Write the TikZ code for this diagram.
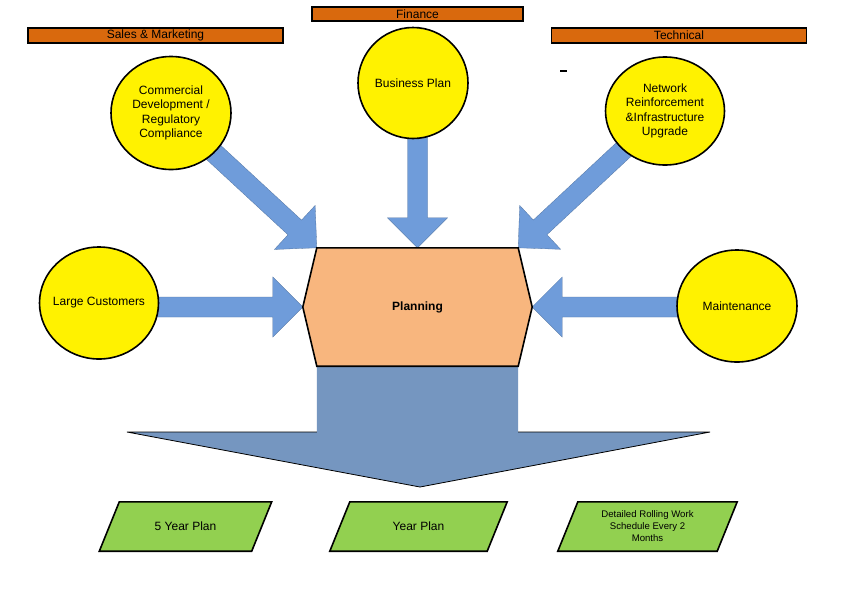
\documentclass[tikz,border=0pt]{standalone}
\usepackage{fontspec}
\setmainfont{Liberation Sans}
\usetikzlibrary{shapes.geometric,calc,backgrounds}
\definecolor{barorange}{RGB}{217,105,13}
\definecolor{planorange}{RGB}{248,182,126}
\definecolor{arrowblue}{RGB}{111,156,218}
\definecolor{bigblue}{RGB}{117,150,192}
\definecolor{plangreen}{RGB}{146,208,80}
\newcommand\blockarr[2]{%
  \filldraw[smallarrow]
    ($(#1)!10pt!90:(#2)$) --
    ($($(#2)!30pt!(#1)$)!10pt!-90:(#1)$) --
    ($($(#2)!30pt!(#1)$)!30pt!-90:(#1)$) --
    (#2) --
    ($($(#2)!30pt!(#1)$)!30pt!90:(#1)$) --
    ($($(#2)!30pt!(#1)$)!10pt!90:(#1)$) --
    ($(#1)!10pt!-90:(#2)$) -- cycle;}
\begin{document}
\begin{tikzpicture}[x=1pt,y=-1pt,
  bar/.style={draw, line width=1.6pt, fill=barorange, minimum width=255pt,
    minimum height=15pt, inner sep=0pt, font=\fontsize{12}{14}\selectfont},
  topic/.style={ellipse, draw, line width=1.6pt, fill=yellow, inner sep=0pt,
    align=center, font=\fontsize{12}{14.5}\selectfont},
  smallarrow/.style={fill=arrowblue, draw=arrowblue!75!black, line width=0.3pt},
  planbox/.style={minimum width=201pt, minimum height=118pt, inner sep=0pt,
    font=\fontsize{12}{14}\selectfont\bfseries},
  outbox/.style={minimum height=49pt, inner sep=0pt, align=center,
    font=\fontsize{12}{14}\selectfont},
  paraline/.style={draw, line width=1.6pt, fill=plangreen, line join=miter},
]
\useasboundingbox (0,0) rectangle (842,595);

% category bars
\node[bar] (sales) at (155.5,35.5) {Sales \& Marketing};
\node[bar, minimum width=211pt, minimum height=14pt] (fin) at (417.5,14) {Finance};
\node[bar] (tech) at (679,35.5) {Technical};

% topics
\node[topic, minimum width=120pt, minimum height=113pt] (comm) at (171,113)
  {Commercial\\Development /\\Regulatory\\Compliance};
\node[topic, minimum width=110pt, minimum height=111pt] (bp) at (413,83) {Business Plan};
\node[topic, minimum width=119pt, minimum height=108pt] (net) at (665,111)
  {Network\\Reinforcement\\\&Infrastructure\\Upgrade};
\node[topic, minimum width=119pt, minimum height=112pt] (lc) at (99,303)
  {\makebox[0pt]{Large Customers}};
\node[topic, minimum width=120pt, minimum height=112pt] (maint) at (737,306) {Maintenance};

% planning
\node[planbox] (plan) at (417.5,307) {Planning};
\coordinate (lpt) at ($(plan.west)+(-14,0)$);
\coordinate (rpt) at ($(plan.east)+(14,0)$);
\coordinate (headline) at (0,432);
\coordinate (bigtip) at (420,487);

% outputs
\node[outbox, minimum width=152pt] (p1) at (185.5,526.5) {5 Year Plan};
\node[outbox, minimum width=157pt] (p2) at (418.5,526.5) {Year Plan};
\node[outbox, minimum width=159pt, font=\fontsize{9.6}{12}\selectfont] (p3) at (647.5,526.5)
  {Detailed Rolling Work\\Schedule Every 2\\Months};

% stray mark
\draw[line width=2pt] (560,70.5) -- (567,70.5);

\begin{scope}[on background layer]
  \fill[white] (0,0) rectangle (842,595);
  % big output arrow
  \fill[bigblue] (plan.south west) -- (plan.south west |- headline) -- (127,432)
    -- (bigtip) -- (710,432) -- (plan.south east |- headline) -- (plan.south east) -- cycle;
  \draw[line width=0.8pt] (plan.south west |- headline) -- (127,432) -- (bigtip)
    -- (710,432) -- (plan.south east |- headline);
  % input arrows
  \blockarr{comm.center}{plan.north west}
  \blockarr{plan.north |- bp.center}{plan.north}
  \blockarr{net.center}{plan.north east}
  \blockarr{lc.center |- lpt}{lpt}
  \blockarr{maint.center |- rpt}{rpt}
  % planning hexagon
  \filldraw[fill=planorange, line width=1.6pt, line join=miter]
    (plan.north west) -- (plan.north east) -- (rpt) -- (plan.south east)
    -- (plan.south west) -- (lpt) -- cycle;
  % parallelograms
  \foreach \p in {p1,p2,p3}{
    \filldraw[paraline] ($(\p.north west)+(10,0)$) -- ($(\p.north east)+(10,0)$)
      -- ($(\p.south east)+(-10,0)$) -- ($(\p.south west)+(-10,0)$) -- cycle;
  }
\end{scope}
\end{tikzpicture}
\end{document}
